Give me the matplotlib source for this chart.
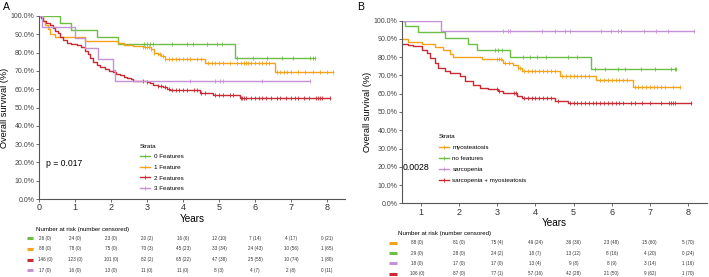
import numpy as np
import matplotlib
matplotlib.use('Agg')
from matplotlib import pyplot as plt
from matplotlib.lines import Line2D

plt.rcParams['font.family'] = ['Liberation Sans', 'DejaVu Sans']

GREEN = '#6dbe45'
ORANGE = '#f7a21b'
RED = '#cb2a33'
PURPLE = '#c592d6'

# ---- panel A : number of features ----
a_labels = ['0 Features', '1 Feature', '2 Features', '3 Features']
a_colors = [GREEN, ORANGE, RED, PURPLE]

a0_t = [0, 0.58, 0.9, 1.62, 2.2, 5.44]
a0_s = [1.0, 0.96, 0.923, 0.885, 0.846, 0.769]
a0_end = 7.67
a0_cens = [2.92, 2.99, 3.08, 3.18, 3.69, 4.10, 4.29, 4.66, 4.94, 5.07,
           5.49, 5.95, 6.32, 6.74, 7.06, 7.53, 7.62, 7.67]

a1_t = [0, 0.1, 0.18, 0.25, 0.3, 0.45, 1.28, 2.2, 2.35, 2.6, 2.9, 3.1, 3.2,
        3.3, 3.4, 3.5, 4.61, 6.56]
a1_s = [1.0, 0.975, 0.95, 0.93, 0.90, 0.885, 0.865, 0.85, 0.84, 0.835, 0.83,
        0.82, 0.80, 0.79, 0.78, 0.765, 0.745, 0.695]
a1_end = 8.18
a1_cens = [2.9, 2.95, 3.0, 3.05, 3.1, 3.2, 3.3, 3.35, 3.45, 3.5, 3.6, 3.7,
           3.8, 3.9, 4.0, 4.1, 4.2, 4.4, 4.5, 4.7, 4.8, 4.9, 5.0, 5.1, 5.3,
           5.5, 5.6, 5.7, 5.75, 5.8, 5.9, 6.0, 6.1, 6.2, 6.3, 6.4, 6.6, 6.7,
           6.8, 6.9, 7.0, 7.2, 7.4, 7.6, 7.8, 8.0, 8.18]

a2_t = [0, 0.05, 0.12, 0.2, 0.31, 0.38, 0.44, 0.52, 0.58, 0.66, 0.77, 0.9,
        1.05, 1.18, 1.28, 1.35, 1.42, 1.5, 1.6, 1.7, 1.83, 1.95, 2.06, 2.15,
        2.25, 2.35, 2.44, 2.55, 2.62, 2.99, 3.08, 3.18, 3.3, 3.45, 3.55, 3.64,
        4.47, 4.84, 5.58]
a2_s = [1.0, 0.99, 0.975, 0.96, 0.95, 0.935, 0.92, 0.905, 0.885, 0.87, 0.855,
        0.845, 0.84, 0.83, 0.81, 0.795, 0.77, 0.75, 0.73, 0.72, 0.708, 0.70,
        0.695, 0.685, 0.675, 0.667, 0.66, 0.655, 0.645, 0.64, 0.632, 0.624,
        0.618, 0.61, 0.60, 0.593, 0.58, 0.568, 0.553]
a2_end = 8.08
a2_cens = [2.9, 3.0, 3.3, 3.4, 3.5, 3.6, 3.7, 3.8, 3.9, 4.0, 4.1, 4.3, 4.4,
           4.5, 4.6, 4.9, 5.0, 5.1, 5.3, 5.4, 5.6, 5.65, 5.7, 5.75, 5.9, 6.0,
           6.1, 6.2, 6.3, 6.45, 6.6, 6.7, 6.85, 7.0, 7.1, 7.2, 7.35, 7.5, 7.7,
           7.75, 7.8, 7.85, 8.08]

a3_t = [0, 0.07, 1.0, 1.28, 1.65, 2.06, 2.1]
a3_s = [1.0, 0.941, 0.882, 0.824, 0.765, 0.706, 0.647]
a3_end = 7.53
a3_cens = [4.19, 4.89, 5.03, 5.12, 6.19, 7.53]

a_risk = [
    ['26 (0)', '24 (0)', '23 (0)', '20 (2)', '16 (6)', '12 (10)', '7 (14)', '4 (17)', '0 (21)'],
    ['88 (0)', '78 (0)', '75 (0)', '70 (3)', '45 (23)', '33 (34)', '24 (43)', '10 (56)', '1 (65)'],
    ['146 (0)', '123 (0)', '101 (0)', '82 (2)', '65 (22)', '47 (38)', '25 (55)', '10 (74)', '1 (80)'],
    ['17 (0)', '16 (0)', '13 (0)', '11 (0)', '11 (0)', '8 (3)', '4 (7)', '2 (8)', '0 (11)'],
]
a_pval = 'p = 0.017'

# ---- panel B : body composition ----
b_labels = ['myosteatosis', 'no features', 'sarcopenia', 'sarcopenia + myosteatosis']
b_colors = [ORANGE, GREEN, PURPLE, RED]

b0_t = [0, 0.67, 1.02, 1.37, 1.58, 1.76, 1.85, 2.59, 3.11, 3.15, 3.42, 3.55,
        3.64, 4.64, 5.60, 6.56]
b0_s = [0.90, 0.884, 0.875, 0.857, 0.839, 0.82, 0.803, 0.792, 0.785, 0.767,
        0.758, 0.74, 0.722, 0.698, 0.676, 0.636]
b0_end = 7.78
b0_cens = [3.0, 3.05, 3.1, 3.2, 3.3, 3.55, 3.6, 3.7, 3.8, 3.9, 4.0, 4.1, 4.2,
           4.3, 4.4, 4.5, 4.7, 4.8, 4.9, 5.0, 5.1, 5.2, 5.3, 5.4, 5.7, 5.8,
           5.9, 6.0, 6.1, 6.2, 6.3, 6.4, 6.6, 6.7, 6.8, 6.9, 7.0, 7.1, 7.2,
           7.3, 7.4, 7.6, 7.78]

b1_t = [0, 0.58, 0.93, 1.63, 2.22, 2.46, 3.33, 5.45]
b1_s = [1.0, 0.973, 0.938, 0.904, 0.872, 0.84, 0.803, 0.735]
b1_end = 7.69
b1_cens = [2.94, 3.02, 3.11, 3.68, 3.85, 4.03, 4.29, 4.86, 5.08, 5.55, 5.82,
           6.17, 6.34, 6.78, 7.13, 7.56, 7.65, 7.69]

b2_t = [0, 1.52]
b2_s = [1.0, 0.945]
b2_end = 8.17
b2_cens = [3.15, 3.29, 3.33, 4.16, 4.51, 4.77, 4.9, 5.73, 5.99, 6.17, 6.25,
           6.86, 7.17, 7.47, 8.17]

b3_t = [0, 0.67, 0.8, 1.02, 1.15, 1.24, 1.37, 1.45, 1.63, 1.76, 2.02, 2.15,
        2.37, 2.54, 2.76, 3.02, 3.15, 3.51, 3.64, 4.51, 4.86]
b3_s = [0.87, 0.865, 0.86, 0.842, 0.824, 0.796, 0.769, 0.742, 0.724, 0.715,
        0.697, 0.67, 0.648, 0.633, 0.624, 0.615, 0.602, 0.588, 0.577, 0.56,
        0.551]
b3_end = 8.09
b3_cens = [3.0, 3.05, 3.45, 3.5, 3.7, 3.8, 3.9, 4.0, 4.1, 4.2, 4.3, 4.4, 4.6,
           4.9, 5.0, 5.1, 5.2, 5.3, 5.4, 5.5, 5.6, 5.7, 5.8, 5.9, 6.0, 6.1,
           6.2, 6.3, 6.5, 6.6, 6.8, 7.0, 7.3, 7.5, 7.55, 7.6, 7.65, 8.09]

b_risk = [
    ['88 (0)', '81 (0)', '75 (4)', '49 (24)', '36 (36)', '23 (48)', '15 (60)', '5 (70)'],
    ['29 (0)', '28 (0)', '24 (2)', '18 (7)', '13 (12)', '8 (16)', '4 (20)', '0 (24)'],
    ['18 (0)', '17 (0)', '17 (0)', '13 (4)', '9 (8)', '8 (9)', '3 (14)', '1 (16)'],
    ['106 (0)', '87 (0)', '77 (1)', '57 (16)', '42 (28)', '21 (50)', '9 (62)', '1 (70)'],
]
b_pval = '0.0028'

W, H = 709, 277


def px_box(x0, y0, x1, y1):
    return [x0 / W, 1 - y1 / H, (x1 - x0) / W, (y1 - y0) / H]


def draw_km(ax, t, s, end, cens, color):
    t = np.asarray(t, float)
    s = np.asarray(s, float)
    ax.step(np.append(t, end), np.append(s, s[-1]), where='post', color=color, lw=1.0)
    c = np.asarray(cens, float)
    cy = s[np.searchsorted(t, c, side='right') - 1]
    ax.plot(c, cy, ls='none', marker='|', ms=3.5, mew=0.6, color=color)


def style_axes(ax, xmin, ticks):
    ax.set_xlim(xmin, 8.5)
    ax.set_ylim(0, 1.0)
    for side in ['top', 'right']:
        ax.spines[side].set_visible(False)
    for side in ['left', 'bottom']:
        ax.spines[side].set_color('#555555')
        ax.spines[side].set_linewidth(0.8)
    yv = np.arange(0, 1.01, 0.1)
    ax.set_yticks(yv)
    ax.set_yticklabels(['%.1f%%' % (v * 100) for v in yv], fontsize=5.0, color='#444444')
    ax.set_xticks(ticks)
    ax.set_xticklabels([str(v) for v in ticks], fontsize=6.5, color='#333333')
    ax.tick_params(length=2, width=0.6, color='#555555', pad=1.2)
    ax.set_xlabel('Years', fontsize=7.2, labelpad=1)
    ax.set_ylabel('Overall survival (%)', fontsize=6.6, labelpad=1)
    for sp in ax.spines.values():
        sp.set_clip_on(False)


def risk_table(box, xmin, cols, rows, colors, first_shift, bar):
    axt = fig.add_axes(box)
    axt.set_xlim(xmin, 8.5)
    axt.set_ylim(len(rows), 0)
    axt.axis('off')
    for r, (row, col) in enumerate(zip(rows, colors)):
        for c, txt in zip(cols, row):
            x = c + (first_shift if c == cols[0] else 0)
            axt.text(x, r + 0.5, txt, ha='center', va='center', fontsize=3.3, color='#333333')
        axt.add_line(Line2D(bar, [1 - (r + 0.5) / len(rows)] * 2, transform=axt.transAxes,
                            color=col, lw=2.2, solid_capstyle='butt', clip_on=False))
    return axt


fig = plt.figure(figsize=(W / 100, H / 100), dpi=100)

# panel A
axA = fig.add_axes(px_box(39, 16, 345, 199))
for t, s, e, c, col in zip([a0_t, a1_t, a2_t, a3_t], [a0_s, a1_s, a2_s, a3_s],
                           [a0_end, a1_end, a2_end, a3_end],
                           [a0_cens, a1_cens, a2_cens, a3_cens], a_colors):
    draw_km(axA, t, s, e, c, col)
style_axes(axA, 0, list(range(0, 9)))
axA.text(0.2, 0.195, a_pval, fontsize=6.2, va='center', ha='left')
handles = [Line2D([], [], color=c, lw=1, marker='|', ms=3.5, mew=0.6) for c in a_colors]
axA.legend(handles, a_labels, title='Strata', loc='upper left',
           bbox_to_anchor=(0.32, 0.32), frameon=False, fontsize=4.5,
           title_fontsize=4.5, handlelength=1.6, handletextpad=0.6,
           labelspacing=0.85, alignment='left', borderpad=0)
fig.text(0.004, 1 - 7 / H, 'A', fontsize=7.5, va='center')
fig.text(36 / W, 1 - 229 / H, 'Number at risk (number censored)', fontsize=4.4, va='center')
risk_table(px_box(39, 233, 345, 275.5), 0, list(range(0, 9)), a_risk, a_colors, 0.17,
           [-0.04, -0.019])

# panel B
axB = fig.add_axes(px_box(402, 20.7, 707, 203.3))
for t, s, e, c, col in zip([b0_t, b1_t, b2_t, b3_t], [b0_s, b1_s, b2_s, b3_s],
                           [b0_end, b1_end, b2_end, b3_end],
                           [b0_cens, b1_cens, b2_cens, b3_cens], b_colors):
    draw_km(axB, t, s, e, c, col)
style_axes(axB, 0.5, list(range(1, 9)))
axB.text(0.52, 0.195, b_pval, fontsize=6.3, va='center', ha='left')
handles = [Line2D([], [], color=c, lw=1, marker='|', ms=3.5, mew=0.6) for c in b_colors]
axB.legend(handles, b_labels, title='Strata', loc='upper left',
           bbox_to_anchor=(0.11, 0.395), frameon=False, fontsize=4.5,
           title_fontsize=4.5, handlelength=1.6, handletextpad=0.6,
           labelspacing=0.9, alignment='left', borderpad=0)
fig.text(357 / W, 1 - 7 / H, 'B', fontsize=7.5, va='center')
fig.text(398 / W, 1 - 233.3 / H, 'Number at risk (number censored)', fontsize=4.4, va='center')
risk_table(px_box(402, 237.5, 707, 279), 0.5, list(range(1, 9)), b_risk, b_colors, -0.1,
           [-0.043, -0.016])

fig.savefig('out.png', dpi=100)
